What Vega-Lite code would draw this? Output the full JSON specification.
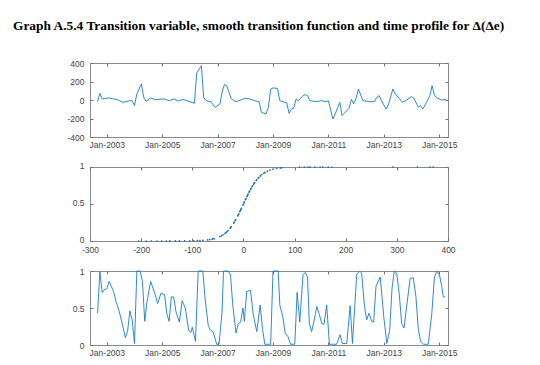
{
  "$schema": "https://vega.github.io/schema/vega-lite/v6.json",
  "padding": {"left": 13, "top": 19, "right": 5, "bottom": 5},
  "background": "white",
  "bounds": "flush",
  "spacing": 30,
  "title": {
    "text": "Graph A.5.4 Transition variable, smooth transition function and time profile for Δ(Δe)",
    "anchor": "start",
    "frame": "group",
    "font": "Liberation Serif",
    "fontSize": 13.4,
    "fontWeight": "bold",
    "color": "#000000",
    "dx": -77,
    "offset": 26
  },
  "config": {
    "view": {"stroke": "#8a8a8a", "strokeWidth": 1},
    "axis": {
      "domain": false,
      "grid": false,
      "title": null,
      "ticks": true,
      "tickSize": -3,
      "tickColor": "#707070",
      "labelFont": "Liberation Sans",
      "labelFontSize": 8.5,
      "labelColor": "#444444",
      "labelPadding": 5,
      "labelFlush": false,
      "labelOverlap": false,
      "labelExpr": "replace(datum.label, '−', '-')"
    },
    "axisY": {"labelPadding": 9},
    "axisX": {"labelPadding": 6}
  },
  "datasets": {
    "te": [
      {"d": "2002-09-01", "v": -18}, {"d": "2002-10-01", "v": 72}, {"d": "2002-11-01", "v": 11}, {"d": "2003-02-01", "v": 22},
      {"d": "2003-06-01", "v": 0}, {"d": "2003-08-01", "v": -25}, {"d": "2003-11-01", "v": -7}, {"d": "2003-12-01", "v": -7},
      {"d": "2004-01-01", "v": -60}, {"d": "2004-02-01", "v": 65}, {"d": "2004-04-01", "v": 173}, {"d": "2004-05-01", "v": 29},
      {"d": "2004-06-01", "v": -14}, {"d": "2004-08-01", "v": 22}, {"d": "2004-10-01", "v": 4}, {"d": "2005-02-01", "v": 11},
      {"d": "2005-04-01", "v": -7}, {"d": "2005-06-01", "v": 11}, {"d": "2005-08-01", "v": -11}, {"d": "2005-10-01", "v": 7},
      {"d": "2006-01-01", "v": -18}, {"d": "2006-03-01", "v": -36}, {"d": "2006-04-01", "v": 292}, {"d": "2006-06-01", "v": 371},
      {"d": "2006-07-01", "v": 29}, {"d": "2006-08-01", "v": -7}, {"d": "2006-10-01", "v": -18}, {"d": "2006-12-01", "v": -79},
      {"d": "2007-02-01", "v": -43}, {"d": "2007-03-01", "v": 83}, {"d": "2007-04-01", "v": 166}, {"d": "2007-05-01", "v": 155},
      {"d": "2007-07-01", "v": 11}, {"d": "2007-09-01", "v": -18}, {"d": "2007-11-01", "v": 0}, {"d": "2008-01-01", "v": 18},
      {"d": "2008-03-01", "v": 11}, {"d": "2008-05-01", "v": -7}, {"d": "2008-07-01", "v": -18}, {"d": "2008-08-01", "v": -133},
      {"d": "2008-10-01", "v": -151}, {"d": "2008-11-01", "v": -79}, {"d": "2008-12-01", "v": 119}, {"d": "2009-01-01", "v": 130},
      {"d": "2009-03-01", "v": 126}, {"d": "2009-04-01", "v": -7}, {"d": "2009-07-01", "v": -32}, {"d": "2009-08-01", "v": -144},
      {"d": "2009-09-01", "v": -97}, {"d": "2009-10-01", "v": -90}, {"d": "2009-11-01", "v": 11}, {"d": "2009-12-01", "v": -7},
      {"d": "2010-02-01", "v": 47}, {"d": "2010-03-01", "v": 58}, {"d": "2010-04-01", "v": 47}, {"d": "2010-05-01", "v": -7},
      {"d": "2010-08-01", "v": -18}, {"d": "2010-10-01", "v": -7}, {"d": "2010-12-01", "v": -18}, {"d": "2011-01-01", "v": -7},
      {"d": "2011-03-01", "v": -205}, {"d": "2011-04-01", "v": -151}, {"d": "2011-06-01", "v": -25}, {"d": "2011-07-01", "v": -169},
      {"d": "2011-09-01", "v": -115}, {"d": "2011-10-01", "v": -90}, {"d": "2011-11-01", "v": 7}, {"d": "2011-12-01", "v": -43},
      {"d": "2012-01-01", "v": 18}, {"d": "2012-02-01", "v": 119}, {"d": "2012-04-01", "v": -7}, {"d": "2012-07-01", "v": -18},
      {"d": "2012-09-01", "v": -18}, {"d": "2012-10-01", "v": 29}, {"d": "2012-11-01", "v": 47}, {"d": "2012-12-01", "v": -7},
      {"d": "2013-02-01", "v": -97}, {"d": "2013-03-01", "v": -54}, {"d": "2013-05-01", "v": 119}, {"d": "2013-06-01", "v": 65},
      {"d": "2013-08-01", "v": 11}, {"d": "2013-09-01", "v": -25}, {"d": "2013-11-01", "v": 0}, {"d": "2014-01-01", "v": 36},
      {"d": "2014-02-01", "v": 22}, {"d": "2014-04-01", "v": -79}, {"d": "2014-05-01", "v": -61}, {"d": "2014-06-01", "v": -97},
      {"d": "2014-09-01", "v": 47}, {"d": "2014-10-01", "v": 155}, {"d": "2014-11-01", "v": 47}, {"d": "2014-12-01", "v": 25},
      {"d": "2015-02-01", "v": 0}, {"d": "2015-04-01", "v": 5}
    ],
    "sc": [
      {"x": -205, "g": 0}, {"x": -190, "g": 0}, {"x": -180, "g": 0}, {"x": -169, "g": 0.00004}, {"x": -160, "g": 0.0001},
      {"x": -151, "g": 0.0001}, {"x": -144, "g": 0.0002}, {"x": -133, "g": 0.0003}, {"x": -125, "g": 0.0006}, {"x": -115, "g": 0.001},
      {"x": -105, "g": 0.0018}, {"x": -97, "g": 0.003}, {"x": -90, "g": 0.0045}, {"x": -85, "g": 0.006}, {"x": -79, "g": 0.0087},
      {"x": -70, "g": 0.015}, {"x": -66, "g": 0.019}, {"x": -61, "g": 0.025}, {"x": -60, "g": 0.027}, {"x": -57, "g": 0.032},
      {"x": -46, "g": 0.06}, {"x": -43, "g": 0.07}, {"x": -40, "g": 0.083},
      {"x": -36, "g": 0.103}, {"x": -34, "g": 0.115}, {"x": -32, "g": 0.128}, {"x": -30, "g": 0.142},
      {"x": -26, "g": 0.174}, {"x": -25, "g": 0.182}, {"x": -24, "g": 0.192},
      {"x": -19, "g": 0.242}, {"x": -18, "g": 0.254}, {"x": -16, "g": 0.277}, {"x": -15, "g": 0.289},
      {"x": -11, "g": 0.34}, {"x": -10, "g": 0.354}, {"x": -9, "g": 0.368},
      {"x": -7, "g": 0.397}, {"x": -6, "g": 0.411}, {"x": -5, "g": 0.426}, {"x": -4, "g": 0.44},
      {"x": -1, "g": 0.485}, {"x": 0, "g": 0.5}, {"x": 1, "g": 0.515},
      {"x": 2, "g": 0.53}, {"x": 4, "g": 0.56}, {"x": 5, "g": 0.574},
      {"x": 7, "g": 0.603}, {"x": 8, "g": 0.618}, {"x": 9, "g": 0.632}, {"x": 11, "g": 0.66},
      {"x": 12, "g": 0.673}, {"x": 14, "g": 0.698}, {"x": 15, "g": 0.711},
      {"x": 17, "g": 0.735}, {"x": 18, "g": 0.746}, {"x": 20, "g": 0.769}, {"x": 21, "g": 0.779},
      {"x": 22, "g": 0.79}, {"x": 25, "g": 0.818}, {"x": 26, "g": 0.826},
      {"x": 29, "g": 0.85}, {"x": 30, "g": 0.858},
      {"x": 33, "g": 0.879}, {"x": 36, "g": 0.897}, {"x": 40, "g": 0.917},
      {"x": 42, "g": 0.926}, {"x": 47, "g": 0.944}, {"x": 52, "g": 0.958},
      {"x": 58, "g": 0.97}, {"x": 65, "g": 0.98},
      {"x": 72, "g": 0.987}, {"x": 75, "g": 0.989},
      {"x": 110, "g": 0.999}, {"x": 119, "g": 0.999}, {"x": 126, "g": 1}, {"x": 130, "g": 1},
      {"x": 140, "g": 1}, {"x": 150, "g": 1}, {"x": 155, "g": 1}, {"x": 166, "g": 1},
      {"x": 173, "g": 1}, {"x": 292, "g": 1}, {"x": 340, "g": 1}, {"x": 365, "g": 1}, {"x": 371, "g": 1}
    ],
    "g": [
      {"d": "2002-09-01", "g": 0.43}, {"d": "2002-10-01", "g": 0.99}, {"d": "2002-11-01", "g": 0.71}, {"d": "2002-12-01", "g": 0.75},
      {"d": "2003-01-01", "g": 0.76}, {"d": "2003-02-01", "g": 0.86}, {"d": "2003-04-01", "g": 0.72}, {"d": "2003-05-01", "g": 0.59},
      {"d": "2003-06-15", "g": 0.45}, {"d": "2003-08-01", "g": 0.25}, {"d": "2003-09-01", "g": 0.1}, {"d": "2003-10-01", "g": 0.18},
      {"d": "2003-11-01", "g": 0.46}, {"d": "2003-12-01", "g": 0.34}, {"d": "2004-01-01", "g": 0.02}, {"d": "2004-02-01", "g": 1.0},
      {"d": "2004-03-15", "g": 1.0}, {"d": "2004-04-15", "g": 0.86}, {"d": "2004-05-15", "g": 0.32}, {"d": "2004-06-15", "g": 0.59},
      {"d": "2004-08-01", "g": 0.86}, {"d": "2004-10-01", "g": 0.68}, {"d": "2004-11-01", "g": 0.56}, {"d": "2004-12-15", "g": 0.7},
      {"d": "2005-02-01", "g": 0.68}, {"d": "2005-03-01", "g": 0.43}, {"d": "2005-04-01", "g": 0.32}, {"d": "2005-05-01", "g": 0.65},
      {"d": "2005-06-01", "g": 0.65}, {"d": "2005-07-01", "g": 0.45}, {"d": "2005-08-15", "g": 0.31}, {"d": "2005-09-20", "g": 0.6},
      {"d": "2005-11-01", "g": 0.5}, {"d": "2005-12-15", "g": 0.2}, {"d": "2006-01-15", "g": 0.17}, {"d": "2006-02-01", "g": 0.24},
      {"d": "2006-03-15", "g": 0.05}, {"d": "2006-04-20", "g": 1.0}, {"d": "2006-06-20", "g": 1.0}, {"d": "2006-07-20", "g": 0.63},
      {"d": "2006-09-01", "g": 0.25}, {"d": "2006-10-01", "g": 0.2}, {"d": "2006-11-01", "g": 0.18}, {"d": "2006-12-20", "g": 0.01},
      {"d": "2007-01-20", "g": 0.01}, {"d": "2007-03-01", "g": 0.45}, {"d": "2007-03-20", "g": 1.0}, {"d": "2007-05-20", "g": 1.0},
      {"d": "2007-06-20", "g": 0.95}, {"d": "2007-07-20", "g": 0.54}, {"d": "2007-09-01", "g": 0.16}, {"d": "2007-10-01", "g": 0.29},
      {"d": "2007-11-01", "g": 0.31}, {"d": "2007-12-01", "g": 0.5}, {"d": "2007-12-20", "g": 0.32}, {"d": "2008-01-20", "g": 0.72},
      {"d": "2008-03-10", "g": 0.74}, {"d": "2008-04-15", "g": 0.41}, {"d": "2008-06-01", "g": 0.18}, {"d": "2008-07-15", "g": 0.54},
      {"d": "2008-08-15", "g": 0.22}, {"d": "2008-09-15", "g": 0.01}, {"d": "2008-12-01", "g": 0.01}, {"d": "2009-01-01", "g": 1.0},
      {"d": "2009-03-10", "g": 1.0}, {"d": "2009-04-01", "g": 0.54}, {"d": "2009-05-10", "g": 0.38}, {"d": "2009-06-10", "g": 0.16},
      {"d": "2009-07-20", "g": 0.11}, {"d": "2009-08-20", "g": 0.01}, {"d": "2009-10-15", "g": 0.01}, {"d": "2009-11-15", "g": 0.71},
      {"d": "2009-12-20", "g": 0.31}, {"d": "2010-02-01", "g": 0.95}, {"d": "2010-03-01", "g": 0.98}, {"d": "2010-04-01", "g": 0.92},
      {"d": "2010-04-25", "g": 0.29}, {"d": "2010-05-25", "g": 0.18}, {"d": "2010-06-25", "g": 0.32}, {"d": "2010-08-01", "g": 0.52},
      {"d": "2010-09-05", "g": 0.41}, {"d": "2010-10-05", "g": 0.29}, {"d": "2010-11-05", "g": 0.28}, {"d": "2010-12-10", "g": 0.54},
      {"d": "2011-01-15", "g": 0.01}, {"d": "2011-04-20", "g": 0.01}, {"d": "2011-06-05", "g": 0.14}, {"d": "2011-07-05", "g": 0.02},
      {"d": "2011-09-01", "g": 0.02}, {"d": "2011-10-15", "g": 0.53}, {"d": "2011-11-15", "g": 0.02}, {"d": "2012-01-10", "g": 0.95},
      {"d": "2012-02-15", "g": 1.0}, {"d": "2012-03-15", "g": 0.97}, {"d": "2012-04-20", "g": 0.54}, {"d": "2012-05-20", "g": 0.34},
      {"d": "2012-06-20", "g": 0.43}, {"d": "2012-07-25", "g": 0.32}, {"d": "2012-08-20", "g": 0.31}, {"d": "2012-09-20", "g": 0.79},
      {"d": "2012-11-15", "g": 0.92}, {"d": "2013-01-01", "g": 0.38}, {"d": "2013-02-10", "g": 0.02}, {"d": "2013-03-20", "g": 0.2},
      {"d": "2013-04-20", "g": 0.77}, {"d": "2013-05-20", "g": 1.0}, {"d": "2013-06-20", "g": 0.97}, {"d": "2013-07-25", "g": 0.68},
      {"d": "2013-08-25", "g": 0.29}, {"d": "2013-09-25", "g": 0.23}, {"d": "2013-11-01", "g": 0.54}, {"d": "2013-12-15", "g": 0.9},
      {"d": "2014-01-25", "g": 0.91}, {"d": "2014-03-01", "g": 0.65}, {"d": "2014-04-01", "g": 0.22}, {"d": "2014-05-01", "g": 0.05},
      {"d": "2014-06-10", "g": 0.01}, {"d": "2014-08-10", "g": 0.01}, {"d": "2014-09-25", "g": 0.41}, {"d": "2014-11-01", "g": 0.92},
      {"d": "2014-12-01", "g": 1.0}, {"d": "2015-01-05", "g": 0.95}, {"d": "2015-02-05", "g": 0.79}, {"d": "2015-02-25", "g": 0.65},
      {"d": "2015-03-20", "g": 0.65}
    ]
  },
  "vconcat": [
    {
      "width": 358,
      "height": 74,
      "data": {"name": "te"},
      "layer": [
        {
          "mark": {"type": "line", "color": "#1a7cc4", "strokeWidth": 0.9},
          "encoding": {
            "x": {
              "field": "d", "type": "temporal",
              "scale": {"type": "utc", "domain": [{"year": 2002, "month": 5, "date": 24, "utc": true}, {"year": 2015, "month": 4, "date": 28, "utc": true}]},
              "axis": {"format": "%b-%Y", "labelExpr": "datum.label", "values": [
                {"year": 2003, "month": 1, "date": 1, "utc": true}, {"year": 2005, "month": 1, "date": 1, "utc": true},
                {"year": 2007, "month": 1, "date": 1, "utc": true}, {"year": 2009, "month": 1, "date": 1, "utc": true},
                {"year": 2011, "month": 1, "date": 1, "utc": true}, {"year": 2013, "month": 1, "date": 1, "utc": true},
                {"year": 2015, "month": 1, "date": 1, "utc": true}]}
            },
            "y": {
              "field": "v", "type": "quantitative",
              "scale": {"domain": [-400, 400], "nice": false, "zero": false},
              "axis": {"values": [-400, -200, 0, 200, 400]}
            }
          }
        },
        {
          "mark": {"type": "line", "opacity": 0},
          "encoding": {
            "x": {
              "field": "d", "type": "temporal",
              "axis": {"orient": "top", "labels": false, "values": [
                {"year": 2003, "month": 1, "date": 1, "utc": true}, {"year": 2005, "month": 1, "date": 1, "utc": true},
                {"year": 2007, "month": 1, "date": 1, "utc": true}, {"year": 2009, "month": 1, "date": 1, "utc": true},
                {"year": 2011, "month": 1, "date": 1, "utc": true}, {"year": 2013, "month": 1, "date": 1, "utc": true},
                {"year": 2015, "month": 1, "date": 1, "utc": true}]}
            },
            "y": {
              "field": "v", "type": "quantitative",
              "axis": {"orient": "right", "labels": false, "values": [-400, -200, 0, 200, 400]}
            }
          }
        }
      ],
      "resolve": {"axis": {"x": "independent", "y": "independent"}}
    },
    {
      "width": 358,
      "height": 74,
      "data": {"name": "sc"},
      "layer": [
        {
          "mark": {"type": "point", "filled": true, "size": 3, "color": "#1a6fae", "opacity": 1, "strokeWidth": 0},
          "encoding": {
            "x": {
              "field": "x", "type": "quantitative",
              "scale": {"domain": [-300, 400], "nice": false, "zero": false},
              "axis": {"values": [-300, -200, -100, 0, 100, 200, 300, 400], "labelPadding": 7}
            },
            "y": {
              "field": "g", "type": "quantitative",
              "scale": {"domain": [0, 1], "nice": false},
              "axis": {"values": [0, 0.5, 1], "format": "~g", "labelOffset": -1.5}
            }
          }
        },
        {
          "mark": {"type": "point", "opacity": 0},
          "encoding": {
            "x": {
              "field": "x", "type": "quantitative",
              "axis": {"orient": "top", "labels": false, "values": [-300, -200, -100, 0, 100, 200, 300, 400]}
            },
            "y": {
              "field": "g", "type": "quantitative",
              "axis": {"orient": "right", "labels": false, "values": [0, 0.5, 1]}
            }
          }
        }
      ],
      "resolve": {"axis": {"x": "independent", "y": "independent"}}
    },
    {
      "width": 358,
      "height": 74,
      "data": {"name": "g"},
      "layer": [
        {
          "mark": {"type": "line", "color": "#1a7cc4", "strokeWidth": 0.9},
          "encoding": {
            "x": {
              "field": "d", "type": "temporal",
              "scale": {"type": "utc", "domain": [{"year": 2002, "month": 5, "date": 24, "utc": true}, {"year": 2015, "month": 4, "date": 28, "utc": true}]},
              "axis": {"format": "%b-%Y", "labelExpr": "datum.label", "values": [
                {"year": 2003, "month": 1, "date": 1, "utc": true}, {"year": 2005, "month": 1, "date": 1, "utc": true},
                {"year": 2007, "month": 1, "date": 1, "utc": true}, {"year": 2009, "month": 1, "date": 1, "utc": true},
                {"year": 2011, "month": 1, "date": 1, "utc": true}, {"year": 2013, "month": 1, "date": 1, "utc": true},
                {"year": 2015, "month": 1, "date": 1, "utc": true}]}
            },
            "y": {
              "field": "g", "type": "quantitative",
              "scale": {"domain": [0, 1], "nice": false},
              "axis": {"values": [0, 0.5, 1], "format": "~g"}
            }
          }
        },
        {
          "mark": {"type": "line", "opacity": 0},
          "encoding": {
            "x": {
              "field": "d", "type": "temporal",
              "axis": {"orient": "top", "labels": false, "values": [
                {"year": 2003, "month": 1, "date": 1, "utc": true}, {"year": 2005, "month": 1, "date": 1, "utc": true},
                {"year": 2007, "month": 1, "date": 1, "utc": true}, {"year": 2009, "month": 1, "date": 1, "utc": true},
                {"year": 2011, "month": 1, "date": 1, "utc": true}, {"year": 2013, "month": 1, "date": 1, "utc": true},
                {"year": 2015, "month": 1, "date": 1, "utc": true}]}
            },
            "y": {
              "field": "g", "type": "quantitative",
              "axis": {"orient": "right", "labels": false, "values": [0, 0.5, 1]}
            }
          }
        }
      ],
      "resolve": {"axis": {"x": "independent", "y": "independent"}}
    }
  ]
}
